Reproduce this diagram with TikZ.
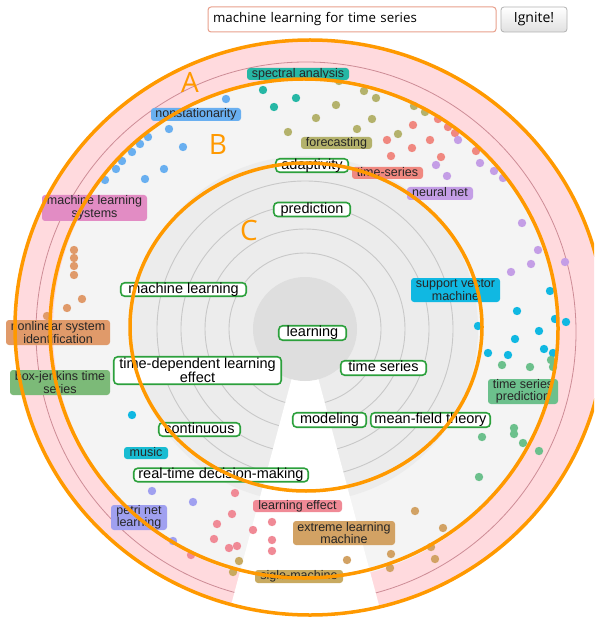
\documentclass[tikz,border=0pt]{standalone}
\usepackage{fontspec}
\setmainfont{Liberation Sans}
\newfontfamily\ubu{Open Sans}
\definecolor{orangeann}{RGB}{255,153,0}
\definecolor{gcol}{RGB}{44,160,60}
\definecolor{ringpink}{RGB}{255,218,222}
\definecolor{ringline}{RGB}{205,140,150}
\definecolor{lgray}{RGB}{244,244,244}
\definecolor{mgray}{RGB}{236,236,236}
\definecolor{dgray}{RGB}{222,222,222}
\definecolor{cline}{RGB}{200,200,200}
\definecolor{sbox}{RGB}{232,160,140}
\definecolor{cteal}{RGB}{38,183,165}
\definecolor{cblue}{RGB}{105,175,240}
\definecolor{colive}{RGB}{180,178,108}
\definecolor{csalmon}{RGB}{240,136,128}
\definecolor{cpurple}{RGB}{196,158,230}
\definecolor{cpink}{RGB}{226,140,196}
\definecolor{ccyan}{RGB}{16,184,226}
\definecolor{cbrown}{RGB}{224,154,106}
\definecolor{cgreenA}{RGB}{124,186,120}
\definecolor{cgreenB}{RGB}{108,192,140}
\definecolor{cmusic}{RGB}{24,188,210}
\definecolor{cperi}{RGB}{160,160,240}
\definecolor{crose}{RGB}{240,138,150}
\definecolor{ctan}{RGB}{210,162,100}
\definecolor{csigle}{RGB}{200,170,96}
\tikzset{
  gnode/.style={draw=gcol, line width=1.6pt, fill=white, rounded corners=4pt,
    inner sep=0pt, align=center, font=\fontsize{14.5}{13.5}\selectfont},
  gone/.style={gnode, text height=10.5pt, text depth=3pt},
  cnode/.style={fill=#1, rounded corners=3pt, inner sep=0pt, align=center,
    text=black!85, font=\fontsize{12.5}{12.5}\selectfont},
  cone/.style={cnode=#1, text height=9pt, text depth=2.5pt},
  orng/.style={draw=orangeann, line width=3.5pt},
  letter/.style={text=orangeann, font=\ubu\fontsize{28}{28}\selectfont, inner sep=0pt},
}
\begin{document}
\begin{tikzpicture}[x=1pt,y=-1pt]
\useasboundingbox (0,0) rectangle (594,617);
\clip (0,0) rectangle (594,617);
\fill[white] (0,0) rectangle (594,617);
% rings
\fill[ringpink] (310,327.5) ellipse[x radius=294, y radius=286.5];
\draw[ringline, line width=0.8pt] (306,332) circle[radius=270];
\fill[lgray] (305,329) circle[radius=252];
\fill[mgray] (305,329) circle[radius=173];
\foreach \r in {76,100,124,148} \draw[cline, line width=0.9pt] (305,329) circle[radius=\r];
\fill[white] (305,329) -- (219.6,647.8) -- (390.4,647.8) -- cycle;
\fill[dgray] (305,329) circle[radius=52];
% dots
\foreach \p in {(226,99),(169,129),(148,137),(140,144),(132,152),(122,161),(116,169),(105,180),(183,147),(164,169),(145,179)}
  \fill[cblue] \p circle[radius=4.2];
\foreach \p in {(263,90),(274,107),(296,98)}
  \fill[cteal] \p circle[radius=4.2];
\foreach \p in {(339,81),(364,91),(376,98),(336,105),(316,118),(372,119),(357,129),(398,134),(414,106),(425,112),(288,132)}
  \fill[colive] \p circle[radius=4.2];
\foreach \p in {(413,125),(438,119),(448,127),(455,133),(387,140),(430,140),(412,148),(391,156),(441,157),(476,151)}
  \fill[csalmon] \p circle[radius=4.2];
\foreach \p in {(458,140),(436,165),(447,176),(480,163),(494,171),(503,178),(522,223),(538,250),(531,264),(511,272),(565,262)}
  \fill[cpurple] \p circle[radius=4.2];
\foreach \p in {(550,291),(517,311),(555,319),(566,322),(478,326),(539,331),(515,339),(544,349),(553,353),(488,353),(508,355),(132,415)}
  \fill[ccyan] \p circle[radius=4.2];
\foreach \p in {(502,365),(530,367),(551,360),(553,367),(514,428),(514,434),(523,443),(539,451),(482,437),(479,477)}
  \fill[cgreenB] \p circle[radius=4.2];
\foreach \p in {(415,511),(443,528),(431,547),(435,559),(391,554),(390,568),(347,560)}
  \fill[ctan] \p circle[radius=4.2];
\foreach \p in {(239,561),(233,572)}
  \fill[csigle] \p circle[radius=4.2];
\foreach \p in {(235,493),(232,514),(217,524),(253,530),(214,539),(229,548),(237,546),(272,522),(272,540),(272,551),(191,555)}
  \fill[crose] \p circle[radius=4.2];
\foreach \p in {(152,491),(193,502),(173,541)}
  \fill[cperi] \p circle[radius=4.2];
\foreach \p in {(74,250),(74,258),(74,266),(74,275),(82,299),(67,308),(47,316)}
  \fill[cbrown] \p circle[radius=4.2];
% colored labels
\node[cone=cteal, minimum width=102pt, minimum height=12pt] (spec) at (298,74) {spectral analysis};
\node[cone=cblue, minimum width=90pt, minimum height=13pt] (nonst) at (196,114.5) {nonstationarity};
\node[cone=colive, minimum width=71pt, minimum height=12pt] (fore) at (336.5,143) {forecasting};
\node[cone=csalmon, minimum width=71pt, minimum height=12pt] (tser) at (387.5,173) {time-series};
\node[cone=cpurple, minimum width=66pt, minimum height=13pt] (nnet) at (440,193.5) {neural net};
\node[cnode=cpink, minimum width=105pt, minimum height=26pt] (mls) at (94.5,208) {machine learning\\systems};
\node[cnode=ccyan, minimum width=89pt, minimum height=24pt] (svm) at (455.5,290) {support vector\\machine};
\node[cnode=cbrown, minimum width=104pt, minimum height=25pt] (nlsi) at (58,332.5) {nonlinear system\\identification};
\node[cnode=cgreenA, minimum width=100pt, minimum height=25pt] (bjts) at (60,382.5) {box-jenkins time\\series};
\node[cnode=cgreenB, minimum width=70pt, minimum height=25pt] (tsp) at (523,391.5) {time series\\prediction};
\node[cone=cmusic, minimum width=44pt, minimum height=12pt] (music) at (146,453) {music};
\node[cnode=cperi, minimum width=56pt, minimum height=25pt] (petri) at (139,517.5) {petri net\\learning};
\node[cone=crose, minimum width=89pt, minimum height=12pt] (leff) at (297.5,506) {learning effect};
\node[cnode=ctan, minimum width=102pt, minimum height=24pt] (elm) at (344,533) {extreme learning\\machine};
\node[cone=csigle, minimum width=88pt, minimum height=13pt] (sigle) at (299,576.5) {sigle-machine};
% green nodes
\node[gone, minimum width=67.5pt, minimum height=14.5pt] (learning) at (312.5,333) {learning};
\node[gone, minimum width=76.5pt, minimum height=14pt] (pred) at (312,209.5) {prediction};
\node[gone, minimum width=72.5pt, minimum height=13.5pt] (adapt) at (312,165.5) {adaptivity};
\node[gone, minimum width=125.5pt, minimum height=13.5pt] (ml) at (183.5,289.5) {machine learning};
\node[gnode, minimum width=167.5pt, minimum height=27.5pt] (tdle) at (197.5,370.5) {time-dependent learning\\effect};
\node[gone, minimum width=85.5pt, minimum height=14.5pt] (ts) at (383.5,368) {time series};
\node[gone, minimum width=73.5pt, minimum height=14.5pt] (model) at (329.5,420) {modeling};
\node[gone, minimum width=119.5pt, minimum height=14.5pt] (mft) at (430.5,420) {mean-field theory};
\node[gone, minimum width=81.5pt, minimum height=13.5pt] (cont) at (199.5,429.5) {continuous};
\node[gone, minimum width=174.5pt, minimum height=13pt] (rtdm) at (221,475) {real-time decision-making};
% orange annotations
\draw[orng] (310,327.5) ellipse[x radius=295, y radius=287.5];
\draw[orng] (304,328.5) ellipse[x radius=254, y radius=249.5];
\draw[orng] (306,327) ellipse[x radius=176, y radius=164];
\node[letter] (la) at (190,82) {A};
\node[letter] (lb) at (218,145) {B};
\node[letter] (lc) at (249,230) {C};
% search UI
\node[draw=sbox, line width=1pt, fill=white, rounded corners=3pt, minimum width=288pt,
  minimum height=25pt, inner xsep=5pt, inner ysep=0pt, text width=278pt, align=left,
  font=\ubu\fontsize{13.3}{13.3}\selectfont] (search) at (352,19.5) {machine learning for time series};
\node[draw=black!30, line width=0.8pt, top color=white, bottom color=black!12, rounded corners=3pt,
  minimum width=66pt, minimum height=25pt, inner sep=0pt,
  font=\ubu\fontsize{14}{14}\selectfont] (btn) at (534,19.5) {Ignite!};
\end{tikzpicture}
\end{document}
